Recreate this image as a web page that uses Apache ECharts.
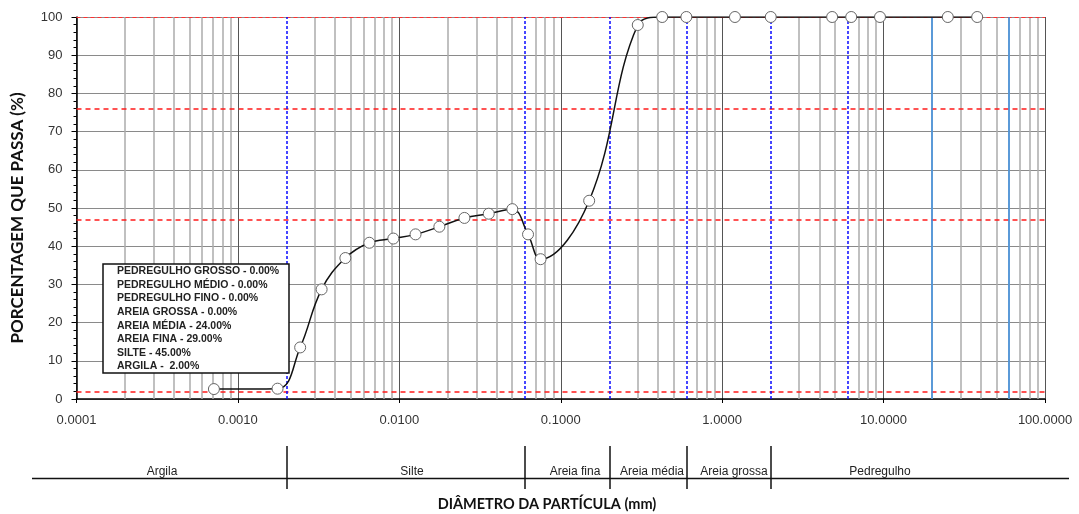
<!DOCTYPE html>
<html>
<head>
<meta charset="utf-8">
<title>Curva granulométrica</title>
<script src="https://cdn.jsdelivr.net/npm/echarts@6/dist/echarts.min.js"></script>
<style>
html, body {margin: 0; padding: 0; background: #fff;}
#chart {width: 1079px; height: 514px;}
</style>
</head>
<body>
<div id="chart"></div>
<script>
// dados do ensaio (diametro em mm, % que passa)
var diametros = [0.00071, 0.00176, 0.00243, 0.0033, 0.00463, 0.00652, 0.00918, 0.0126, 0.0177, 0.0253,
    0.0358, 0.0501, 0.0627, 0.075, 0.15, 0.30, 0.425, 0.60, 1.2, 2.0, 4.8, 6.3, 9.5, 25, 38];
var passante = [2.6, 2.7, 13.5, 28.7, 36.9, 40.9, 42.0, 43.1, 45.1, 47.4,
    48.5, 49.7, 43.1, 36.6, 51.9, 97.9, 100, 100, 100, 100, 100, 100, 100, 100, 100];

// linhas de referencia
var linhasVermelhas = [76, 47, 2];
var limitesAzuis = [0.002, 0.06, 0.2, 0.6, 2, 6];
var limitesClaros = [20, 60];

// faixa de classificacao
var limitesFaixa = [0.002, 0.06, 0.2, 0.6, 2];
var faixaNomes = ['Argila', 'Silte', 'Areia fina', 'Areia média', 'Areia grossa', 'Pedregulho'];

// quadro de fracoes
var fracoesNomes = ['PEDREGULHO GROSSO', 'PEDREGULHO MÉDIO', 'PEDREGULHO FINO', 'AREIA GROSSA',
    'AREIA MÉDIA', 'AREIA FINA', 'SILTE', 'ARGILA'];
var fracoesPct = [0, 0, 0, 0, 24, 29, 45, 2];

var dom = document.getElementById('chart');
var myChart = echarts.init(dom);

var serie = [];
for (var i = 0; i < diametros.length; i++) {
    serie.push([diametros[i], passante[i]]);
}

// linhas secundarias do eixo log (2..9 de cada decada), sem as que coincidem com as azuis
var menores = [];
for (var n = -4; n <= 1; n++) {
    for (var k = 2; k <= 9; k++) {
        var v = +(k * Math.pow(10, n)).toPrecision(6);
        if (limitesAzuis.indexOf(v) === -1) {
            menores.push({xAxis: v});
        }
    }
}

var quadro = [];
for (var i = 0; i < fracoesNomes.length; i++) {
    var sep = fracoesNomes[i] === 'ARGILA' ? ' -  ' : ' - ';
    quadro.push(fracoesNomes[i] + sep + fracoesPct[i].toFixed(2) + '%');
}

function lm(list, key) {
    var a = [];
    for (var i = 0; i < list.length; i++) {
        var o = {};
        o[key] = list[i];
        a.push(o);
    }
    return a;
}

// precision alto senao o markLine arredonda 0.002 para 0
function makeMark(data, z, lineStyle) {
    return {
        silent: true,
        z: z,
        precision: 8,
        symbol: ['none', 'none'],
        label: {show: false},
        emphasis: {disabled: true},
        animation: false,
        data: data,
        lineStyle: lineStyle
    };
}

var faixaX = [162, 412, 575, 652, 734, 880];
var textos = [];
for (var i = 0; i < faixaNomes.length; i++) {
    textos.push({
        type: 'text',
        silent: true,
        style: {
            text: faixaNomes[i], x: faixaX[i], y: 472,
            align: 'center', verticalAlign: 'middle',
            font: '12px "Liberation Sans", Arial', fill: '#222'
        }
    });
}

var option = {
    backgroundColor: '#fff',
    animation: false,
    grid: [
        {left: 76.5, right: 34, top: 17, height: 382},
        {left: 76.5, right: 34, top: 446, height: 43}
    ],
    xAxis: [{
        type: 'log',
        logBase: 10,
        min: 0.0001,
        max: 100,
        splitNumber: 6,
        gridIndex: 0,
        axisLine: {lineStyle: {color: '#000', width: 1.5}},
        axisTick: {show: true, length: 4, lineStyle: {color: '#000'}},
        axisLabel: {
            margin: 15,
            fontFamily: '"Liberation Sans", Arial',
            fontSize: 13,
            color: '#333',
            formatter: function (v) { return v.toFixed(4); }
        },
        splitLine: {show: true, lineStyle: {color: '#555', width: 1}}
    }, {
        type: 'log', logBase: 10, min: 0.0001, max: 100, gridIndex: 1, show: false
    }],
    yAxis: [{
        type: 'value',
        min: 0,
        max: 100,
        interval: 10,
        gridIndex: 0,
        axisLine: {show: true, lineStyle: {color: '#000', width: 1.5}},
        axisTick: {show: true, length: 5, lineStyle: {color: '#000'}},
        minorTick: {show: true, splitNumber: 5, length: 3, lineStyle: {color: '#000'}},
        axisLabel: {margin: 14, fontFamily: '"Liberation Sans", Arial', fontSize: 13, color: '#333'},
        splitLine: {show: true, lineStyle: {color: '#8a8a8a', width: 1}}
    }, {
        type: 'value', min: 0, max: 1, gridIndex: 1, show: false
    }],
    series: [{
        // grade secundaria + linhas de referencia
        type: 'line',
        data: [],
        markLine: makeMark(menores, 1, {color: '#ababab', width: 1.5, type: 'solid'})
    }, {
        type: 'line',
        data: [],
        markLine: makeMark(lm(linhasVermelhas, 'yAxis'), 2, {color: '#ff1a1a', width: 1.5, type: [5, 4]})
    }, {
        type: 'line',
        data: [],
        markLine: makeMark([{yAxis: 100}], 2, {color: '#ff3030', width: 1, type: [4, 3]})
    }, {
        type: 'line',
        data: [],
        markLine: makeMark(lm(limitesAzuis, 'xAxis'), 3, {color: '#0a0aff', width: 1.5, type: [3, 2]})
    }, {
        type: 'line',
        data: [],
        markLine: makeMark(lm(limitesClaros, 'xAxis'), 3, {color: '#3a8ee0', width: 1.5, type: 'solid'})
    }, {
        // curva granulometrica
        name: 'Curva',
        type: 'line',
        z: 6,
        data: serie,
        smooth: 0.4,
        symbol: 'circle',
        symbolSize: 11,
        lineStyle: {color: '#111', width: 1.5},
        itemStyle: {color: '#fff', borderColor: '#666', borderWidth: 1},
        emphasis: {disabled: true}
    }, {
        // divisoes da faixa inferior
        type: 'line',
        data: [],
        xAxisIndex: 1,
        yAxisIndex: 1,
        markLine: makeMark(lm(limitesFaixa, 'xAxis'), 3, {color: '#111', width: 1.5, type: 'solid'})
    }],
    graphic: [{
        type: 'line',
        silent: true,
        shape: {x1: 32, y1: 478.5, x2: 1069, y2: 478.5},
        style: {stroke: '#111', lineWidth: 1.5}
    }, {
        type: 'text',
        silent: true,
        style: {
            text: 'DIÂMETRO DA PARTÍCULA (mm)', x: 547, y: 504,
            align: 'center', verticalAlign: 'middle',
            font: 'bold 14.5px Lato', fill: '#111'
        }
    }, {
        type: 'text',
        silent: true,
        x: 18,
        y: 218,
        rotation: Math.PI / 2,
        style: {
            text: 'PORCENTAGEM QUE PASSA (%)', x: 0, y: 0,
            align: 'center', verticalAlign: 'middle',
            font: 'bold 17px Lato', fill: '#111'
        }
    }, {
        type: 'rect',
        silent: true,
        z: 100,
        shape: {x: 103, y: 264, width: 186, height: 109},
        style: {fill: '#fff', stroke: '#111', lineWidth: 1.5}
    }, {
        type: 'text',
        silent: true,
        z: 101,
        style: {
            text: quadro.join('\n'), x: 117, y: 264.5,
            lineHeight: 13.6,
            font: 'bold 10.5px "Liberation Sans", Arial', fill: '#222'
        }
    }].concat(textos)
};

myChart.setOption(option);
</script>
</body>
</html>
